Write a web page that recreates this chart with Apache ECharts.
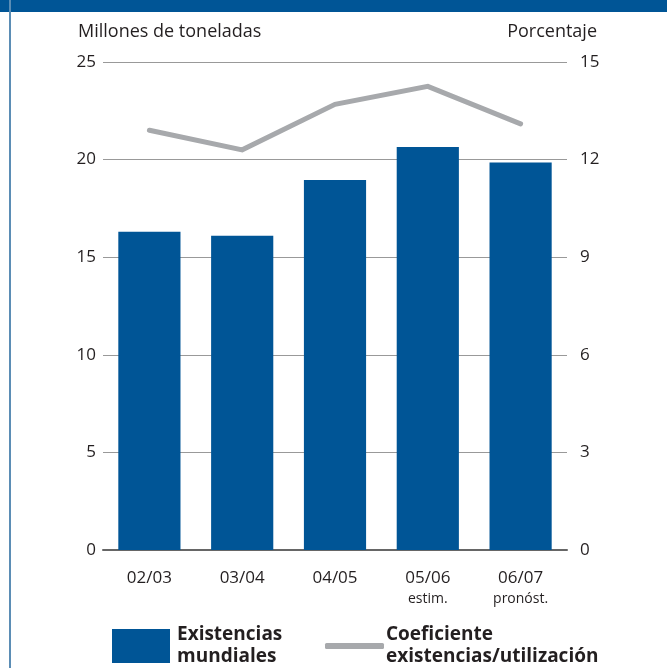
<!DOCTYPE html>
<html><head><meta charset="utf-8">
<script src="https://cdn.jsdelivr.net/npm/echarts@6/dist/echarts.min.js"></script>
<style>html,body{margin:0;padding:0;background:#fff}#c{width:667px;height:668px}</style>
</head><body><div id="c"></div>
<script>
const categories = ['02/03', '03/04', '04/05', '05/06', '06/07'];
const subLabels = ['', '', '', 'estim.', 'pronóst.'];
const stocks = [16.3, 16.1, 18.95, 20.65, 19.85];
const ratio = [12.9, 12.3, 13.7, 14.25, 13.1];
const leftTicks = [0, 5, 10, 15, 20, 25];
const rightTicks = [0, 3, 6, 9, 12, 15];

const BLUE = '#005596';
const GRAY = '#a7a9ac';
const TXT = '#231f20';
const FONT = 'Open Sans';

const chart = echarts.init(document.getElementById('c'), null, {renderer: 'canvas'});
chart.setOption({
  animation: false,
  backgroundColor: '#ffffff',
  textStyle: {fontFamily: FONT, color: TXT},
  grid: {left: 103, right: 100, top: 62, bottom: 118},
  graphic: [
    {type: 'rect', shape: {x: 0, y: 0, width: 667, height: 12}, style: {fill: BLUE}},
    {type: 'rect', shape: {x: 9, y: 0, width: 2, height: 668}, style: {fill: '#5b8db5'}},
    {type: 'text', left: 78, top: 23, style: {text: 'Millones de toneladas', font: '18px "Open Sans"', fill: TXT}},
    {type: 'text', right: 70, top: 23, style: {text: 'Porcentaje', font: '18px "Open Sans"', fill: TXT}}
  ],
  legend: [
    {
      left: 107, top: 619, itemWidth: 58, itemHeight: 34, itemGap: 0,
      icon: 'rect',
      data: [{name: 'Existencias\nmundiales'}],
      textStyle: {fontSize: 19, fontWeight: 'bold', color: TXT, lineHeight: 22, fontFamily: FONT, padding: [0, 0, 0, 2]},
      selectedMode: false
    },
    {
      left: 320, top: 619, itemWidth: 59, itemHeight: 6,
      icon: 'roundRect',
      data: [{name: 'Coeficiente\nexistencias/utilización', itemStyle: {color: GRAY}}],
      textStyle: {fontSize: 19, fontWeight: 'bold', color: TXT, lineHeight: 22, fontFamily: FONT, padding: [0, 0, 0, -3]},
      selectedMode: false
    }
  ],
  xAxis: {
    type: 'category',
    data: categories.map((c, i) => subLabels[i] ? c + '\n{s|' + subLabels[i] + '}' : c),
    axisLine: {lineStyle: {color: '#666666', width: 2}},
    axisTick: {show: false},
    axisLabel: {
      interval: 0,
      fontSize: 17, color: TXT, margin: 17, lineHeight: 22, fontFamily: FONT,
      rich: {s: {fontSize: 14, color: TXT, lineHeight: 20, fontFamily: FONT}}
    }
  },
  yAxis: [
    {
      type: 'value', min: 0, max: 25, interval: 5,
      axisLine: {show: false}, axisTick: {show: false},
      axisLabel: {fontSize: 17, color: TXT, margin: 7, fontFamily: FONT,
        formatter: v => leftTicks.includes(v) ? String(v) : ''},
      splitLine: {lineStyle: {color: '#999999', width: 1}}
    },
    {
      type: 'value', min: 0, max: 15, interval: 3,
      axisLine: {show: false}, axisTick: {show: false},
      axisLabel: {fontSize: 17, color: TXT, margin: 13, fontFamily: FONT,
        formatter: v => rightTicks.includes(v) ? String(v) : ''},
      splitLine: {show: false}
    }
  ],
  series: [
    {
      name: 'Existencias\nmundiales', type: 'bar', data: stocks, yAxisIndex: 0,
      barCategoryGap: '33%', itemStyle: {color: BLUE}
    },
    {
      name: 'Coeficiente\nexistencias/utilización', type: 'line', data: ratio, yAxisIndex: 1,
      symbol: 'none', lineStyle: {color: GRAY, width: 5, cap: 'round', join: 'miter'},
      itemStyle: {color: GRAY}
    }
  ]
});
</script></body></html>
